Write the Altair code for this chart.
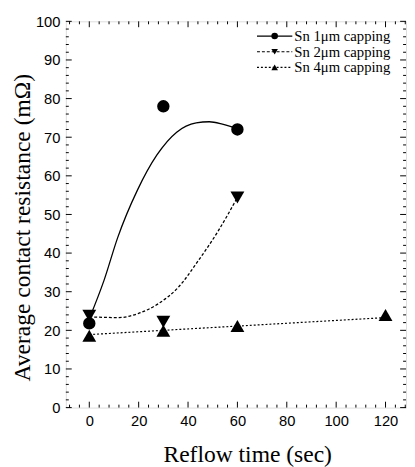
import altair as alt
import pandas as pd

# ---- data ----
series = ["Sn 1\u03bcm capping", "Sn 2\u03bcm capping", "Sn 4\u03bcm capping"]

s1_x = [0, 30, 60]
s1_y = [21.8, 78.0, 72.0]
s2_x = [0, 30, 60]
s2_y = [23.8, 22.2, 54.4]
s4_x = [0, 30, 60, 120]
s4_y = [18.6, 19.9, 21.1, 24.0]

# fitted curves
c1_x = [0, 6, 11.5, 19.5, 27.4, 35.4, 43.3, 48.6, 53.9, 60]
c1_y = [23.0, 33.0, 44.0, 56.3, 65.4, 71.3, 73.7, 74.0, 73.4, 72.2]
c2_x = [0, 4, 12, 20, 28, 36, 44, 52, 60]
c2_y = [23.5, 23.4, 23.3, 24.4, 26.9, 31.1, 37.9, 45.5, 54.4]
c4_x = [0, 120]
c4_y = [18.9, 23.3]

x_major = [0, 20, 40, 60, 80, 100, 120]
x_minor = [v for v in range(-8, 129, 4) if v % 20 != 0]
y_major = list(range(0, 101, 10))
y_minor = [v for v in range(0, 101, 2) if v % 10 != 0]

# ---- layout ----
W, H = 347, 394
XDOM = [-9.5, 128.3]
YDOM = [0, 100]
SERIF = "Liberation Serif"
SANS = "Liberation Sans"

xs = alt.Scale(domain=XDOM, nice=False, zero=False)
ys = alt.Scale(domain=YDOM, nice=False, zero=False)

x_axis = alt.Axis(values=x_major, ticks=False, domain=False, grid=False,
                  labelFont=SANS, labelFontSize=15, labelColor="black",
                  labelPadding=6, labelFlush=False,
                  title="Reflow time (sec)", titleFont=SERIF, titleFontSize=24,
                  titleFontWeight="normal", titleColor="black", titlePadding=15,
                  titleX=185)
y_axis = alt.Axis(values=y_major, ticks=False, domain=False, grid=False,
                  labelFont=SANS, labelFontSize=15, labelColor="black",
                  labelPadding=6, labelFlush=False,
                  title="Average contact resistance (m\u03a9)", titleFont=SERIF,
                  titleFontSize=24, titleFontWeight="normal", titleColor="black",
                  titlePadding=1, titleY=210)


def X(f):
    return alt.X(f + ":Q", scale=xs, axis=x_axis)


def Y(f):
    return alt.Y(f + ":Q", scale=ys, axis=y_axis)


def df(xv, yv):
    return pd.DataFrame({"x": xv, "y": yv})


layers = []

# curves
layers.append(alt.Chart(df(c1_x, c1_y)).mark_line(
    color="black", strokeWidth=1.3, interpolate="monotone").encode(x=X("x"), y=Y("y")))
layers.append(alt.Chart(df(c2_x, c2_y)).mark_line(
    color="black", strokeWidth=1.3, strokeDash=[3, 2], interpolate="monotone").encode(x=X("x"), y=Y("y")))
layers.append(alt.Chart(df(c4_x, c4_y)).mark_line(
    color="black", strokeWidth=1.2, strokeDash=[2, 2]).encode(x=X("x"), y=Y("y")))

# markers
layers.append(alt.Chart(df(s1_x, s1_y)).mark_point(
    shape="circle", filled=True, color="black", opacity=1, size=160).encode(x=X("x"), y=Y("y")))
layers.append(alt.Chart(df(s2_x, s2_y)).mark_point(
    shape="triangle-down", filled=True, color="black", opacity=1, size=200).encode(x=X("x"), y=Y("y")))
layers.append(alt.Chart(df(s4_x, s4_y)).mark_point(
    shape="triangle-up", filled=True, color="black", opacity=1, size=200).encode(x=X("x"), y=Y("y")))

# inward ticks on all four sides
def tdf(vals):
    return pd.DataFrame({"v": vals})

MAJ, MIN = 6, 3
for vals, ln in ((y_major, MAJ), (y_minor, MIN)):
    layers.append(alt.Chart(tdf(vals)).mark_rule(color="black", strokeWidth=1).encode(
        y=Y("v"), x=alt.value(0), x2=alt.value(ln)))
    layers.append(alt.Chart(tdf(vals)).mark_rule(color="black", strokeWidth=1).encode(
        y=Y("v"), x=alt.value(W - ln), x2=alt.value(W)))
for vals, ln in ((x_major, MAJ), (x_minor, MIN)):
    layers.append(alt.Chart(tdf(vals)).mark_rule(color="black", strokeWidth=1).encode(
        x=X("v"), y=alt.value(H - ln), y2=alt.value(H)))
    layers.append(alt.Chart(tdf(vals)).mark_rule(color="black", strokeWidth=1).encode(
        x=X("v"), y=alt.value(0), y2=alt.value(ln)))

# legend (inside, top right)
dashes = [None, [3, 2], [2, 2]]
shapes = ["circle", "triangle-down", "triangle-up"]
LX0, LX1, LTX, LY0, LDY = 195, 231, 233, 15, 16
for i, name in enumerate(series):
    ld = pd.DataFrame({"label": [name]})
    yy = LY0 + i * LDY
    rule_kw = dict(color="black", strokeWidth=1.2)
    if dashes[i]:
        rule_kw["strokeDash"] = dashes[i]
    layers.append(alt.Chart(ld).mark_rule(**rule_kw).encode(
        x=alt.value(LX0), x2=alt.value(LX1), y=alt.value(yy)))
    layers.append(alt.Chart(ld).mark_point(
        shape=shapes[i], filled=True, color="black", opacity=1, size=45).encode(
        x=alt.value((LX0 + LX1) / 2), y=alt.value(yy)))
    layers.append(alt.Chart(ld).mark_text(
        align="left", baseline="middle", font=SERIF, fontSize=15, color="black").encode(
        x=alt.value(LTX), y=alt.value(yy), text="label:N"))

chart = alt.layer(*layers).properties(
    width=W, height=H,
    padding={"left": 59, "top": 9, "right": 1, "bottom": 56},
    autosize=alt.AutoSizeParams(type="none"),
).configure_view(stroke="black", strokeWidth=1.2).configure(background="white")

chart.save("out.html", embed_options={"renderer": "svg", "actions": False})
